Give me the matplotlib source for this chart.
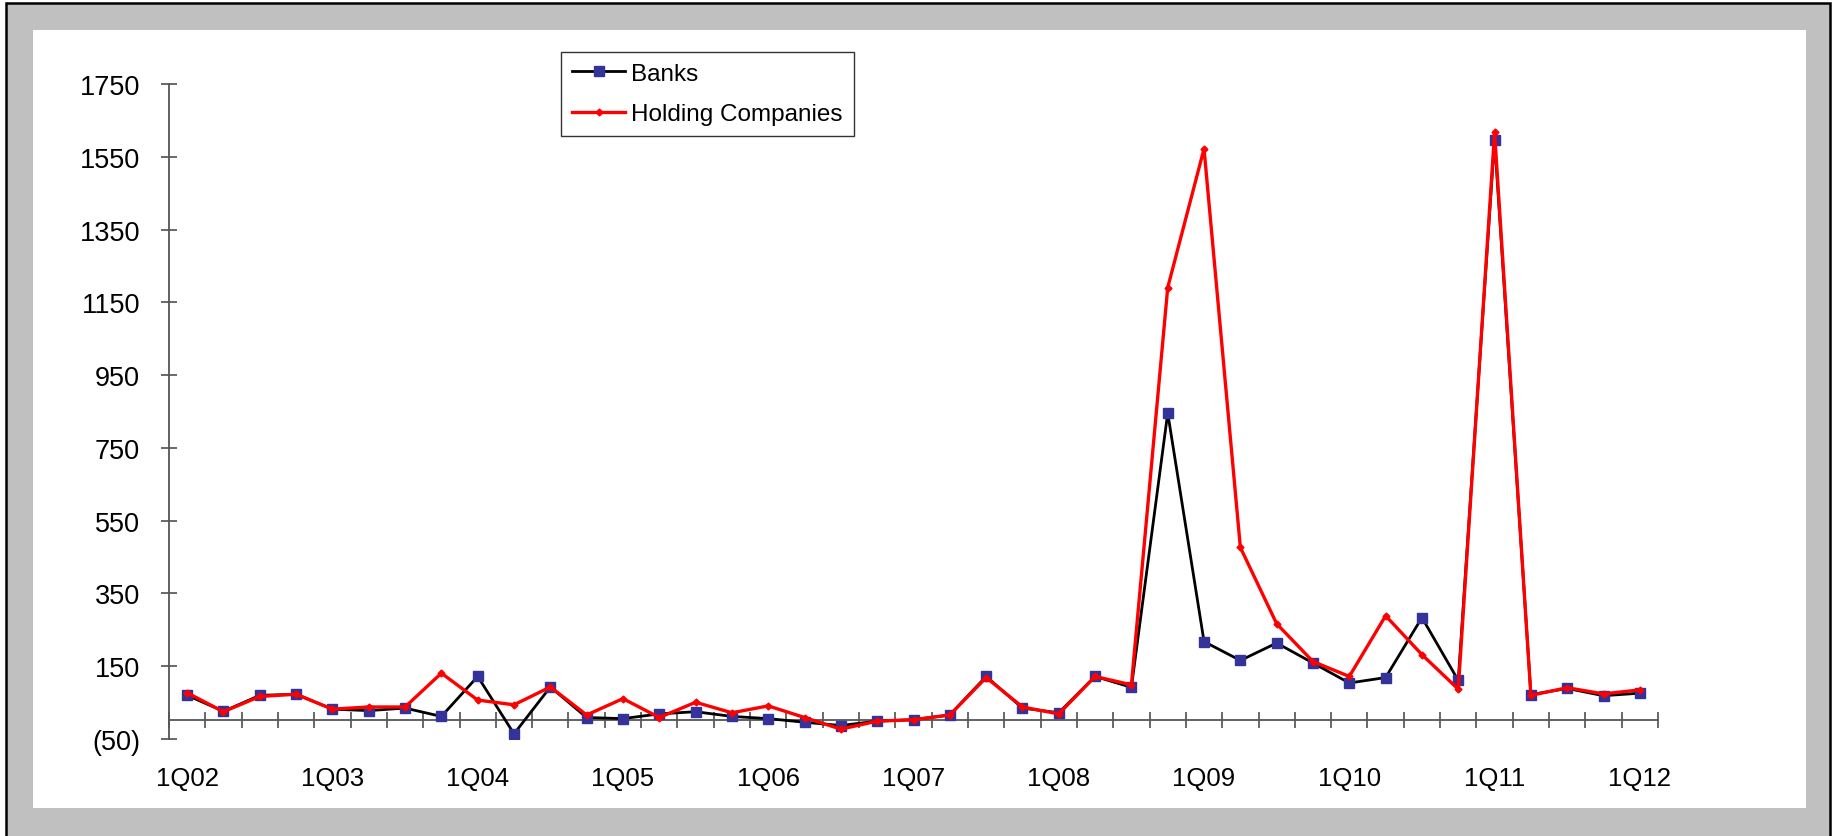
import matplotlib
matplotlib.use("Agg")
import matplotlib.pyplot as plt
from matplotlib.patches import Rectangle
from matplotlib.ticker import FixedLocator
import numpy as np

plt.rcParams['font.family'] = ['Liberation Sans', 'DejaVu Sans']

quarters = [f"{q}Q{y:02d}" for y in range(2, 12) for q in range(1, 5)] + ["1Q12"]

banks = [69, 25, 69, 72, 31, 27, 34, 11, 121, -37, 92, 8,
         5, 18, 24, 11, 5, -5, -14, -2, 2, 15, 121, 34,
         21, 121, 91, 846, 217, 165, 213, 158, 103, 118, 283, 110,
         1598, 71, 88, 68, 75]

holding = [76, 24, 66, 72, 31, 37, 37, 130, 56, 43, 92, 15,
           60, 8, 50, 21, 40, 8, -24, -2, 2, 15, 118, 37,
           18, 121, 98, 1191, 1573, 476, 266, 162, 121, 288, 181, 86,
           1618, 69, 90, 73, 84]

y_ticks = np.arange(-50, 1751, 200)
y_labels = ["(50)" if v < 0 else str(v) for v in y_ticks]

W, H = 1835, 837
fig = plt.figure(figsize=(W / 100, H / 100), dpi=100)
fig.patch.set_facecolor('white')

# grey frame with black outline, white plot area inside
fig.patches.append(Rectangle((6 / W, -0.05), (1830 - 6) / W, 1.05 - 4 / H,
                             transform=fig.transFigure, facecolor='#c0c0c0',
                             edgecolor='black', linewidth=1.8, zorder=-10))
fig.patches.append(Rectangle((33 / W, 1 - 809 / H), (1806 - 33) / W, (809 - 31) / H,
                             transform=fig.transFigure, facecolor='white',
                             edgecolor='none', zorder=-9))

left, right = 169 / W, 1658 / W
bottom, top = 1 - 739.6 / H, 1 - 85.4 / H
ax = fig.add_axes([left, bottom, right - left, top - bottom])
ax.set_facecolor('none')

x = np.arange(len(quarters))
ax.plot(x, banks, color='black', lw=2.0, marker='s', markersize=7.5,
        markerfacecolor='#333399', markeredgecolor='#333399', label='Banks', zorder=3)
ax.plot(x, holding, color='red', lw=2.4, marker='D', markersize=3.5,
        markerfacecolor='red', markeredgecolor='red', label='Holding Companies', zorder=4)

ax.set_xlim(-0.5, len(quarters) - 0.5)
ax.set_ylim(-50, 1750)

for s in ['top', 'right']:
    ax.spines[s].set_visible(False)
ax.spines['bottom'].set_position(('data', 0))
ax.spines['bottom'].set_color('#555555')
ax.spines['left'].set_color('#555555')
ax.spines['bottom'].set_linewidth(1.3)
ax.spines['left'].set_linewidth(1.3)

ax.set_yticks(y_ticks)
ax.set_yticklabels(y_labels)
ax.tick_params(axis='y', direction='inout', length=11.5, width=1.1, color='#404040',
               labelsize=19.5, pad=15)

ax.set_xticks(x[::4])
ax.set_xticklabels(quarters[::4])
ax.xaxis.set_minor_locator(FixedLocator(np.arange(-0.5, len(quarters), 1)))
ax.tick_params(axis='x', which='major', length=0, labelsize=18.5, pad=33)
ax.tick_params(axis='x', which='minor', direction='inout', length=11.5, width=1.1,
               color='#404040')

leg = ax.legend(loc='upper left', bbox_to_anchor=(561 / W, 1 - 53 / H),
                bbox_transform=fig.transFigure, fontsize=17.5, frameon=True,
                fancybox=False, handlelength=2.2, handletextpad=0.25,
                labelspacing=0.75, borderpad=0.45, borderaxespad=0)
leg.get_frame().set_edgecolor('black')
leg.get_frame().set_linewidth(1.0)

fig.savefig('out.png', dpi=100)
